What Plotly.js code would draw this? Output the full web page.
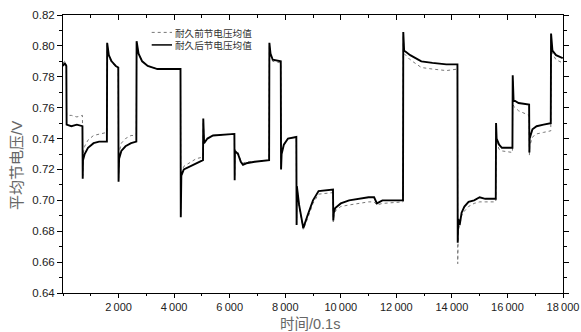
<!DOCTYPE html>
<html>
<head>
<meta charset="utf-8">
<script src="https://cdn.plot.ly/plotly-3.0.1.min.js"></script>
<style>html,body{margin:0;padding:0;background:#fff;}#chart{width:581px;height:332px;}</style>
</head>
<body>
<div id="chart"></div>
<script>
// time (0.1 s)
var timeVals = [0,60,120,130,300,500,700,710,720,780,900,1100,1300,1580,1590,1650,1750,1900,1990,2000,2020,2100,2250,2450,2640,2650,2720,2850,3050,3400,4230,4240,4260,4350,4600,4800,5040,5050,5080,5200,5400,6170,6180,6190,6300,6400,6480,6600,6900,7420,7430,7470,7550,7840,7850,7870,7950,8100,8400,8410,8420,8500,8650,8800,9000,9200,9720,9730,9750,9800,10000,10300,10700,11000,11200,11300,11500,12240,12250,12280,12500,12900,13300,13800,14200,14210,14230,14280,14350,14450,14600,14800,15000,15200,15580,15590,15610,15700,15800,16180,16190,16220,16400,16780,16790,16800,16900,17050,17300,17560,17570,17620,17750,17990];
// 耐久前节电压均值 (V)
var beforeVals = [0.789,0.790,0.789,0.755,0.755,0.754,0.755,0.716,0.730,0.735,0.739,0.742,0.743,0.744,0.801,0.793,0.789,0.787,0.786,0.713,0.731,0.737,0.740,0.742,0.742,0.802,0.795,0.790,0.787,0.785,0.785,0.690,0.718,0.722,0.725,0.727,0.728,0.751,0.738,0.740,0.742,0.743,0.715,0.733,0.731,0.726,0.724,0.725,0.725,0.726,0.800,0.794,0.790,0.789,0.721,0.731,0.736,0.740,0.741,0.685,0.709,0.696,0.681,0.688,0.698,0.704,0.705,0.686,0.690,0.693,0.696,0.697,0.698,0.699,0.699,0.697,0.698,0.699,0.807,0.795,0.791,0.786,0.785,0.784,0.785,0.659,0.680,0.684,0.690,0.693,0.696,0.698,0.699,0.699,0.699,0.748,0.738,0.733,0.732,0.731,0.778,0.761,0.758,0.755,0.729,0.735,0.741,0.743,0.744,0.745,0.805,0.795,0.791,0.789];
// 耐久后节电压均值 (V)
var afterVals = [0.787,0.789,0.787,0.749,0.748,0.749,0.748,0.714,0.726,0.730,0.734,0.737,0.738,0.738,0.802,0.794,0.790,0.787,0.786,0.712,0.727,0.732,0.735,0.737,0.738,0.803,0.795,0.790,0.787,0.785,0.785,0.689,0.716,0.720,0.722,0.724,0.726,0.753,0.737,0.740,0.742,0.743,0.713,0.732,0.730,0.725,0.723,0.724,0.725,0.726,0.802,0.795,0.791,0.790,0.720,0.730,0.736,0.740,0.741,0.684,0.709,0.697,0.682,0.690,0.700,0.706,0.707,0.687,0.692,0.695,0.698,0.700,0.701,0.702,0.702,0.698,0.700,0.700,0.809,0.797,0.794,0.790,0.789,0.788,0.788,0.6725,0.688,0.684,0.692,0.696,0.699,0.700,0.702,0.701,0.701,0.750,0.740,0.736,0.734,0.734,0.781,0.765,0.763,0.762,0.731,0.740,0.746,0.748,0.749,0.750,0.808,0.797,0.794,0.792];

var seriesNames = ['耐久前节电压均值','耐久后节电压均值'];
var xTickVals = [2000,4000,6000,8000,10000,12000,14000,16000,18000];
var xTickText = ['2\u2009000','4\u2009000','6\u2009000','8\u2009000','10\u2009000','12\u2009000','14\u2009000','16\u2009000','18\u2009000'];
var xTitle = '时间/0.1s';
var yTitle = '平均节电压/V';

var tickFont = {family:'Liberation Sans, Arial, sans-serif', size:11.5, color:'#222'};
var xTickFont = {family:'Liberation Sans, Arial, sans-serif', size:11, color:'#222'};
var titleFont = {family:'Liberation Sans, Noto Sans CJK SC, sans-serif', size:15, color:'#666'};
var xTitleFont = {family:'Liberation Sans, Noto Sans CJK SC, sans-serif', size:14.5, color:'#666'};
var legendFont = {family:'Noto Sans CJK SC, sans-serif', size:9.6, color:'#333'};

var traces = [
  {x:timeVals, y:beforeVals, type:'scatter', mode:'lines', name:seriesNames[0],
   line:{color:'#777', width:1, dash:'dot'}, showlegend:false},
  {x:timeVals, y:afterVals, type:'scatter', mode:'lines', name:seriesNames[1],
   line:{color:'#000', width:1.9}, showlegend:false},
  // invisible point so the top axis (inward ticks) is drawn
  {x:[0], y:[0.64], xaxis:'x2', yaxis:'y', mode:'markers', marker:{opacity:0}, hoverinfo:'skip', showlegend:false}
];

var layout = {
  width:581, height:332,
  margin:{l:63, r:18, t:15, b:39},
  paper_bgcolor:'#fff', plot_bgcolor:'#fff',
  xaxis:{range:[0,18000], tickmode:'array', tickvals:xTickVals, ticktext:xTickText,
    ticks:'outside', ticklen:4, tickcolor:'#000', tickwidth:1,
    minor:{tick0:0, dtick:1000, ticks:'outside', ticklen:2, tickcolor:'#000'},
    showline:true, linecolor:'#000', linewidth:1, mirror:true,
    showgrid:false, zeroline:false, tickfont:xTickFont},
  xaxis2:{range:[0,18000], overlaying:'x', side:'top', matches:'x',
    tickmode:'linear', tick0:0, dtick:2000, ticks:'inside', ticklen:5, tickcolor:'#000',
    minor:{tick0:0, dtick:1000, ticks:'inside', ticklen:3, tickcolor:'#000'},
    showticklabels:false, showgrid:false, zeroline:false, showline:false},
  yaxis:{range:[0.64,0.82], tickmode:'linear', tick0:0.64, dtick:0.02, tickformat:'.2f',
    ticks:'outside', ticklen:5, tickcolor:'#000', tickwidth:1,
    minor:{dtick:0.01, ticks:'outside', ticklen:3, tickcolor:'#000'},
    showline:true, linecolor:'#000', linewidth:1, mirror:'ticks',
    showgrid:false, zeroline:false, tickfont:tickFont},
  shapes:[
    {type:'line', xref:'paper', yref:'paper', x0:0.1774, x1:0.218, y0:0.9374, y1:0.9374,
     line:{color:'#777', width:1, dash:'dot'}},
    {type:'line', xref:'paper', yref:'paper', x0:0.1774, x1:0.218, y0:0.8924, y1:0.8924,
     line:{color:'#000', width:1.5}}
  ],
  annotations:[
    {xref:'paper', yref:'paper', x:0.2195, y:0.9149, xanchor:'left', yanchor:'middle', align:'left',
     showarrow:false, text:seriesNames[0] + '<br>' + seriesNames[1], font:legendFont},
    {xref:'paper', yref:'paper', x:0.493, y:-0.1115, xanchor:'center', yanchor:'middle',
     showarrow:false, text:xTitle, font:xTitleFont},
    {xref:'paper', yref:'paper', x:-0.092, y:0.457, xanchor:'center', yanchor:'middle',
     textangle:-90, showarrow:false, text:yTitle, font:titleFont}
  ]
};

Plotly.newPlot('chart', traces, layout, {staticPlot:true, displayModeBar:false});
</script>
</body>
</html>
